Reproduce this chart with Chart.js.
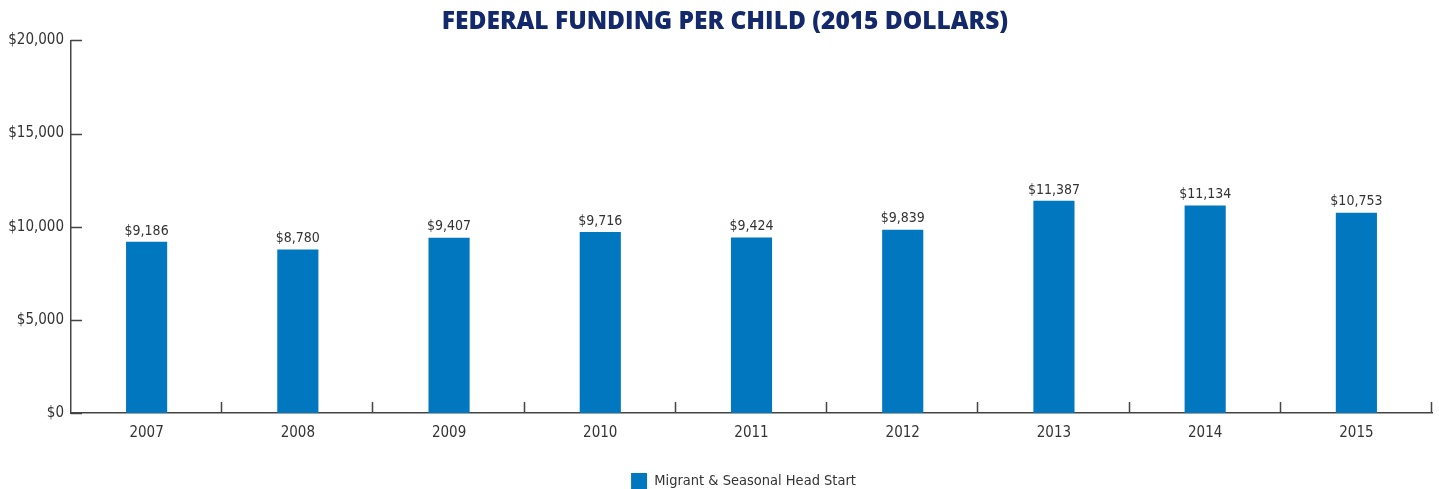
<!DOCTYPE html>
<html>
<head>
<meta charset="utf-8">
<script src="https://cdn.jsdelivr.net/npm/chart.js@4/dist/chart.umd.min.js"></script>
<style>
  html, body { margin: 0; padding: 0; background: #fff; }
  #wrap { width: 1439px; height: 489px; }
</style>
</head>
<body>
<div id="wrap"><canvas id="fundingChart" width="1439" height="489"></canvas></div>
<script>
// --------------------
// Data
// --------------------
const years = ['2007', '2008', '2009', '2010', '2011', '2012', '2013', '2014', '2015'];
const fundingPerChild = [9186, 8780, 9407, 9716, 9424, 9839, 11387, 11134, 10753];
const yTicks = [0, 5000, 10000, 15000, 20000];

const seriesName = 'Migrant & Seasonal Head Start';
const chartTitle = 'FEDERAL FUNDING PER CHILD (2015 DOLLARS)';

const barColor = '#0077bf';
const axisColor = '#444444';
const textColor = '#333333';
const labelFont = "'Liberation Sans Narrow', 'DejaVu Sans Condensed', 'Roboto Condensed', sans-serif";

const money = v => '$' + Number(v).toLocaleString('en-US');

// --------------------
// Inner tick marks (drawn from the scales)
// --------------------
const innerTicks = {
    id: 'innerTicks',
    afterDraw(chart) {
        const ctx = chart.ctx;
        const x = chart.scales.x, y = chart.scales.y;
        ctx.save();
        ctx.strokeStyle = axisColor;
        ctx.lineWidth = 1.5;
        ctx.beginPath();
        yTicks.forEach(v => {
            const py = Math.round(y.getPixelForValue(v)) + 0.5;
            ctx.moveTo(x.left, py);
            ctx.lineTo(x.left + 11, py);
        });
        const w = x.width / years.length;
        for (let i = 1; i <= years.length; i++) {
            const px = Math.round(x.left + i * w) - 0.5;
            ctx.moveTo(px, y.bottom);
            ctx.lineTo(px, y.bottom - 11);
        }
        ctx.stroke();
        ctx.restore();
    }
};

// --------------------
// Value labels above bars
// --------------------
const valueLabels = {
    id: 'valueLabels',
    afterDatasetsDraw(chart) {
        const ctx = chart.ctx;
        const meta = chart.getDatasetMeta(0);
        ctx.save();
        ctx.fillStyle = textColor;
        ctx.font = '14px ' + labelFont;
        ctx.textAlign = 'center';
        ctx.textBaseline = 'bottom';
        meta.data.forEach((bar, i) => {
            ctx.fillText(money(fundingPerChild[i]), bar.x, bar.y - 4);
        });
        ctx.restore();
    }
};

// nudge title and legend a little to sit like the original
const blockNudge = {
    id: 'blockNudge',
    afterLayout(chart) {
        const L = chart.legend, a = chart.chartArea, T = chart.titleBlock;
        const shift = (a.left + a.right) / 2 - 8 - (L.left + L.right) / 2;
        L.left += shift;
        L.right += shift;
        T.left += 9;
        T.right += 9;
    }
};

// --------------------
// Render chart
// --------------------
new Chart(document.getElementById('fundingChart'), {
    type: 'bar',
    data: {
        labels: years,
        datasets: [{
            label: seriesName,
            data: fundingPerChild,
            backgroundColor: barColor,
            borderWidth: 0,
            categoryPercentage: 1,
            barPercentage: 0.272
        }]
    },
    options: {
        responsive: false,
        animation: false,
        layout: { padding: { left: 0, right: 7, top: 0, bottom: -10 } },
        plugins: {
            title: {
                display: true,
                text: chartTitle,
                color: '#13296b',
                font: { family: "'Open Sans', 'DejaVu Sans', sans-serif", size: 24.5, weight: '800' },
                padding: { top: 7, bottom: 4 }
            },
            legend: {
                position: 'bottom',
                labels: {
                    color: textColor,
                    font: { family: labelFont, size: 14.5 },
                    boxWidth: 16,
                    boxHeight: 16,
                    padding: 0
                }
            },
            tooltip: { enabled: false }
        },
        scales: {
            x: {
                offset: true,
                grid: { display: false, drawTicks: false, tickLength: 0 },
                border: { display: true, color: axisColor, width: 1.5 },
                ticks: { color: textColor, font: { family: labelFont, size: 15 }, padding: 11 },
                afterFit: s => { s.height = 60; }
            },
            y: {
                min: 0,
                max: 20000,
                afterBuildTicks: s => { s.ticks = yTicks.map(v => ({ value: v })); },
                grid: { display: false, drawTicks: false, tickLength: 0 },
                border: { display: true, color: axisColor, width: 1.5 },
                ticks: { color: textColor, font: { family: labelFont, size: 15 }, padding: 7, callback: v => money(v) },
                afterFit: s => { s.width = 71; }
            }
        }
    },
    plugins: [innerTicks, valueLabels, blockNudge]
});
</script>
</body>
</html>
